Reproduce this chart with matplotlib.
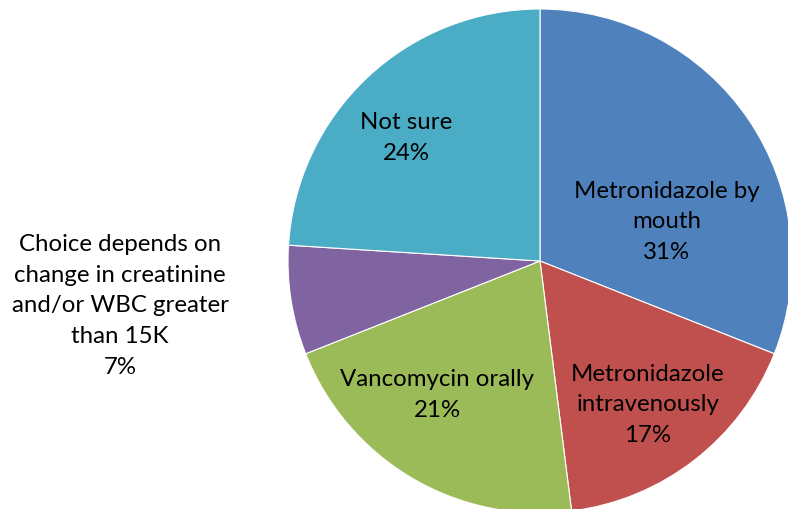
import matplotlib.pyplot as plt

# survey answers, clockwise from 12 o'clock
answers = ['Metronidazole by\nmouth', 'Metronidazole\nintravenously',
           'Vancomycin orally', 'Choice depends on\nchange in creatinine\nand/or WBC greater\nthan 15K',
           'Not sure']
shares = [31, 17, 21, 7, 24]
colors = ['#4F81BD', '#C0504D', '#9BBB59', '#8064A2', '#4BACC6']

# label anchors in pixel space (x, y from top)
label_xy = [(667, 222), (648, 405), (437, 395), (120, 306), (406, 138)]

W, H = 788, 510
fig = plt.figure(figsize=(W / 100, H / 100), dpi=100)
ax = fig.add_axes([0, 0, 1, 1])

ax.pie(shares, colors=colors, startangle=90, counterclock=False,
       center=(540, H - 262), radius=252,
       wedgeprops={'edgecolor': 'white', 'linewidth': 0.8})

for name, pct, (x, y) in zip(answers, shares, label_xy):
    ax.text(x, H - y, f'{name}\n{pct}%', ha='center', va='center',
            fontsize=17.3, family='Lato', color='black', linespacing=1.58)

ax.set_xlim(0, W)
ax.set_ylim(0, H)
ax.set_aspect('equal')
ax.axis('off')

fig.savefig('out.png', dpi=100)
